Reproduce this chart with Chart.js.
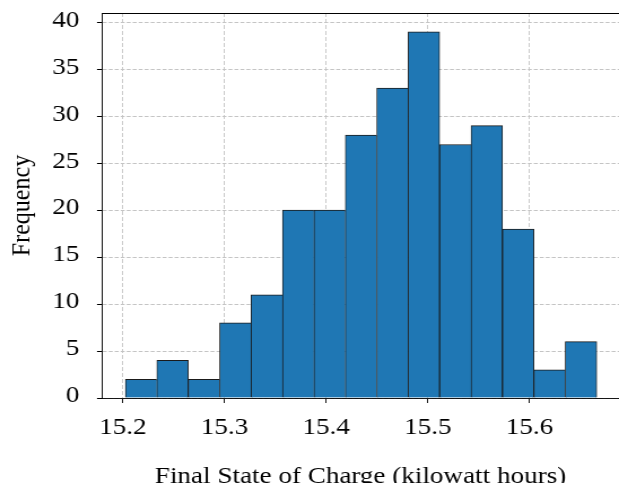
<!DOCTYPE html>
<html>
<head>
<meta charset="utf-8">
<script src="https://cdn.jsdelivr.net/npm/chart.js@4"></script>
<style>
  html, body { margin: 0; padding: 0; background: #fff; overflow: hidden; }
</style>
</head>
<body>
<!-- the reference text is a little wider than it is tall, so the canvas is stretched sideways -->
<canvas id="myChart" width="548" height="483" style="width:619px;height:483px;display:block"></canvas>
<script>
// histogram bins
const binEdges = [15.2026, 15.2335, 15.2644, 15.2953, 15.3262, 15.3571, 15.3880, 15.4189,
  15.4498, 15.4807, 15.5116, 15.5425, 15.5734, 15.6043, 15.6352, 15.6661];
const counts = [2, 4, 2, 8, 11, 20, 20, 28, 33, 39, 27, 29, 18, 3, 6];
const xTicks = [15.2, 15.3, 15.4, 15.5, 15.6];
const yTicks = [0, 5, 10, 15, 20, 25, 30, 35, 40];
const xLabel = "Final State of Charge (kilowatt hours)";
const yLabel = "Frequency";

const ctx = document.getElementById("myChart");
const serif = "'Liberation Serif', 'Times New Roman', serif";
const gridColor = "#c4c4c4";

const points = counts.map((c, i) => ({ x: (binEdges[i] + binEdges[i + 1]) / 2, y: c }));

// top spine of the axes box
const topFrame = {
  id: "topFrame",
  afterDatasetsDraw(chart) {
    const a = chart.chartArea;
    const c = chart.ctx;
    c.save();
    c.strokeStyle = "#000";
    c.lineWidth = 1;
    c.beginPath();
    c.moveTo(a.left, a.top + 0.5);
    c.lineTo(a.right, a.top + 0.5);
    c.stroke();
    c.restore();
  },
};

function edgeWidths(context) {
  const i = context.dataIndex;
  const next = counts[i + 1];
  return {
    left: 0.9,
    top: 1,
    bottom: 0,
    right: next === undefined || next < counts[i] ? 0.9 : 0,
  };
}

new Chart(ctx, {
  type: "bar",
  data: {
    datasets: [
      {
        data: points,
        backgroundColor: "#1f77b4",
        borderColor: "#1a1a1a",
        borderWidth: edgeWidths,
        borderSkipped: false,
        barPercentage: 1,
        categoryPercentage: 1,
        grouped: false,
      },
    ],
  },
  options: {
    responsive: false,
    animation: false,
    devicePixelRatio: 1,
    layout: { padding: { top: 13, left: 0, right: 0, bottom: 0 } },
    plugins: { legend: { display: false }, tooltip: { enabled: false } },
    scales: {
      x: {
        type: "linear",
        offset: false,
        min: 15.1796,
        max: 15.688,
        afterBuildTicks: (s) => { s.ticks = xTicks.map((v) => ({ value: v })); },
        afterFit: (s) => { s.height = 85; s.paddingLeft = 0; s.paddingRight = 0; },
        grid: {
          offset: false,
          color: gridColor,
          lineWidth: 0.9,
          tickLength: 5,
          tickColor: "#000",
          tickWidth: 0.9,
          tickBorderDash: [],
        },
        border: { display: true, color: "#000", width: 0.9, dash: [4, 2] },
        ticks: {
          color: "#000",
          padding: 10,
          maxRotation: 0,
          autoSkip: false,
          font: { family: serif, size: 24 },
          callback: (v) => v.toFixed(1),
        },
        title: {
          display: true,
          text: xLabel,
          color: "#000",
          font: { family: serif, size: 24 },
          padding: { top: 0, bottom: -8 },
        },
      },
      y: {
        min: 0,
        max: 41,
        afterBuildTicks: (s) => { s.ticks = yTicks.map((v) => ({ value: v })); },
        afterFit: (s) => { s.width = 90.3; s.paddingTop = 0; s.paddingBottom = 0; },
        grid: {
          color: gridColor,
          lineWidth: 1,
          tickLength: 4.4,
          tickColor: "#000",
          tickBorderDash: [],
        },
        border: { display: true, color: "#000", width: 0.9, dash: [3.5, 1.8] },
        ticks: {
          color: "#000",
          padding: 15.7,
          labelOffset: -2,
          font: { family: serif, size: 24 },
        },
        title: {
          display: true,
          text: yLabel,
          color: "#000",
          font: { family: serif, size: 24 },
          padding: { top: 5, bottom: 0 },
        },
      },
    },
  },
  plugins: [topFrame],
});
</script>
</body>
</html>
